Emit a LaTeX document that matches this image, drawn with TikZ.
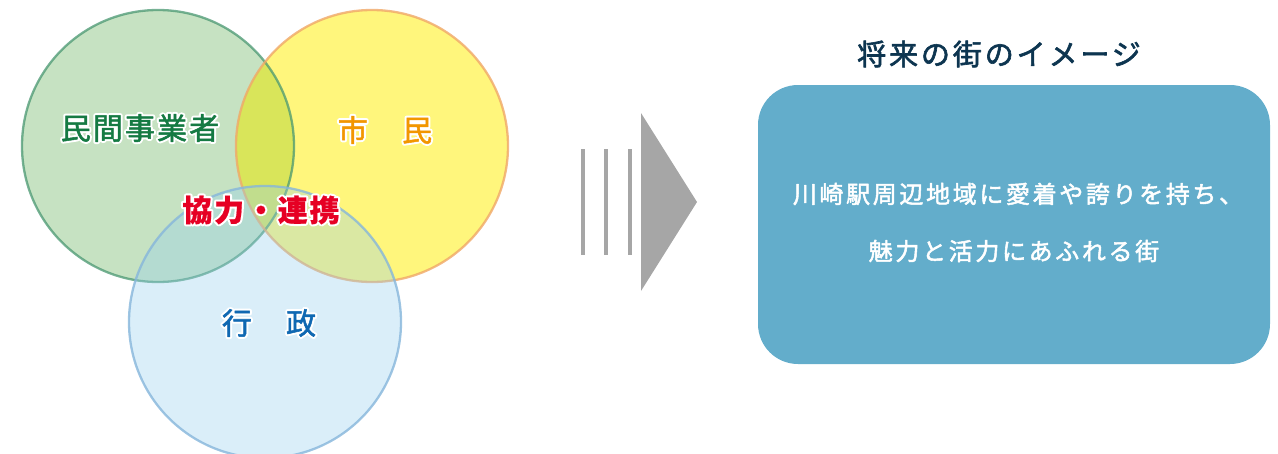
\documentclass[tikz,border=0pt]{standalone}
\usepackage{fontspec}
\setmainfont{Noto Sans CJK JP}
\definecolor{cG}{HTML}{C6E2C2}
\definecolor{cY}{HTML}{FFF67C}
\definecolor{cGY}{HTML}{D9E55A}
\definecolor{cBbase}{RGB}{148,206,238}
\definecolor{sG}{HTML}{4A9872}
\definecolor{sY}{HTML}{F0A868}
\definecolor{sB}{HTML}{86B6DB}
\definecolor{tG}{HTML}{157A43}
\definecolor{tY}{HTML}{F29600}
\definecolor{tB}{HTML}{0F68B2}
\definecolor{tR}{HTML}{E60024}
\definecolor{tT}{HTML}{0D3550}
\definecolor{boxc}{HTML}{63ADCB}
\definecolor{arr}{HTML}{A6A6A6}
% #1 stroke width for weight, #2 rgb of text, #3 text
\newcommand\halotxt[3]{\rlap{\special{pdf:literal direct 1 Tr 4.5 w 1 J 1 j 1 1 1 RG}#3}\special{pdf:literal direct 2 Tr #1 w 1 j #2 RG}#3\special{pdf:literal direct 0 Tr}}
\newcommand\heavytxt[3]{\special{pdf:literal direct 2 Tr #1 w 1 j #2 RG}#3\special{pdf:literal direct 0 Tr}}
\tikzset{
  lbl/.style={inner sep=0pt, font=\fontsize{30}{32}\selectfont\addfontfeature{LetterSpace=7}},
  title/.style={inner sep=0pt, text=tT, font=\fontsize{29}{31}\selectfont\addfontfeature{LetterSpace=10}},
  boxtxt/.style={inner sep=0pt, text=white, font=\fontsize{24}{26}\selectfont\addfontfeature{LetterSpace=11}},
  bigbox/.style={fill=boxc, draw=none, rounded corners=40pt, minimum width=512pt, minimum height=279pt},
}
\begin{document}
\begin{tikzpicture}[x=1pt,y=-1pt]
\useasboundingbox (0,0) rectangle (1278,453);
\coordinate (G) at (158,146);
\coordinate (Y) at (372,146);
\coordinate (B) at (265,322);
% fills
\fill[cG] (G) circle (136pt);
\fill[cY] (Y) circle (136pt);
\begin{scope}
  \clip (G) circle (136pt);
  \fill[cGY] (Y) circle (136pt);
\end{scope}
\draw[sG, line width=2.3pt, draw opacity=0.75] (G) circle (136pt);
\draw[sY, line width=2.3pt, draw opacity=0.8] (Y) circle (136pt);
\fill[cBbase, fill opacity=0.345] (B) circle (136pt);
\draw[sB, line width=2.3pt, draw opacity=0.8] (B) circle (136pt);
% labels
\node[lbl, text=tG] (minkan) at (140,128) {\halotxt{0.5}{0.082 0.478 0.263}{民間事業者}};
\node[lbl, text=tY] (shimin) at (385,130) {\halotxt{0.5}{0.949 0.588 0}{市　民}};
\node[lbl, text=tB] (gyosei) at (269,323) {\halotxt{0.5}{0.059 0.408 0.698}{行　政}};
\node[lbl, text=tR, font=\fontsize{30}{32}\selectfont\bfseries\addfontfeature{LetterSpace=6}] (kyoryoku) at (261,210) {\halotxt{0.2}{0.902 0 0.141}{協力・連携}};
% arrow
\fill[arr] (581,149) rectangle (585,255);
\fill[arr] (604,149) rectangle (608,255);
\fill[arr] (628,149) rectangle (632,255);
\fill[arr] (641,113) -- (697,202) -- (641,291) -- cycle;
% right side
\node[title] (ttl) at (999,54) {\heavytxt{0.6}{0.051 0.208 0.314}{将来の街のイメージ}};
\node[bigbox] (box) at (1014,224.5) {};
\node[boxtxt] (l1) at (1018,194) {\heavytxt{0.5}{1 1 1}{川崎駅周辺地域に愛着や誇りを持ち、}};
\node[boxtxt] (l2) at (1014,251) {\heavytxt{0.5}{1 1 1}{魅力と活力にあふれる街}};
\end{tikzpicture}
\end{document}
